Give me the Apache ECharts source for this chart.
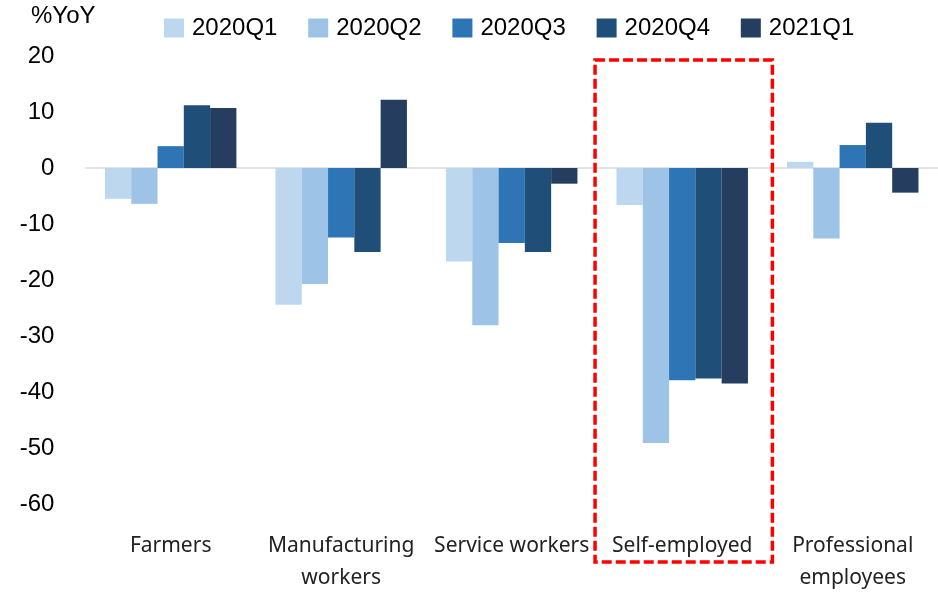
<!DOCTYPE html>
<html>
<head>
<meta charset="utf-8">
<script src="https://cdn.jsdelivr.net/npm/echarts@6/dist/echarts.min.js"></script>
<style>
html,body{margin:0;padding:0;background:#fff;}
#chart{width:938px;height:594px;}
</style>
</head>
<body>
<div id="chart"></div>
<script>
const categories = ['Farmers', 'Manufacturing\nworkers', 'Service workers', 'Self-employed', 'Professional\nemployees'];
const seriesNames = ['2020Q1', '2020Q2', '2020Q3', '2020Q4', '2021Q1'];
const q2020_1 = [-5.5, -24.4, -16.7, -6.6, 1.1];
const q2020_2 = [-6.4, -20.7, -28.1, -49.1, -12.6];
const q2020_3 = [3.9, -12.4, -13.4, -37.9, 4.1];
const q2020_4 = [11.2, -15.0, -15.0, -37.6, 8.1];
const q2021_1 = [10.7, 12.2, -2.8, -38.5, -4.4];
const yTicks = { min: -60, max: 20, interval: 10 };
const highlightCategory = 'Self-employed';

const colors = ['#BDD7EE', '#9DC3E6', '#2E75B6', '#1F4E79', '#253D5F'];
const allData = [q2020_1, q2020_2, q2020_3, q2020_4, q2021_1];

const chart = echarts.init(document.getElementById('chart'));
const option = {
  animation: false,
  backgroundColor: '#fff',
  title: {
    text: '%YoY', left: 31, top: 4, padding: 0,
    textStyle: { fontFamily: 'Liberation Sans', fontSize: 24, fontWeight: 'normal', color: '#000' }
  },
  legend: {
    data: seriesNames, left: 164, top: 16, padding: 0,
    icon: 'rect', itemWidth: 20, itemHeight: 19, itemGap: 30.8,
    textStyle: { fontFamily: 'Liberation Sans', fontSize: 24, color: '#000', padding: [0, 0, 0, 3] }
  },
  grid: { left: 85.4, top: 56, width: 856.25, height: 453, containLabel: false },
  xAxis: {
    type: 'category', data: categories,
    axisLine: { onZero: true, lineStyle: { color: '#D9D9D9', width: 1.5 } },
    axisTick: { show: false },
    axisLabel: {
      interval: 0, margin: 26, lineHeight: 32,
      fontFamily: 'Noto Sans', fontSize: 21, color: '#222'
    }
  },
  yAxis: {
    type: 'value', min: yTicks.min, max: yTicks.max, interval: yTicks.interval,
    axisLine: { show: false }, axisTick: { show: false }, splitLine: { show: false },
    axisLabel: { margin: 31, fontFamily: 'Liberation Sans', fontSize: 24, color: '#000' }
  },
  series: seriesNames.map((n, i) => ({
    name: n, type: 'bar', data: allData[i],
    barGap: '0%', barCategoryGap: '22.9%',
    itemStyle: { color: colors[i] }
  }))
};
chart.setOption(option);

// highlight box around the chosen category, derived from axis scales
const catIdx = categories.indexOf(highlightCategory);
const c0 = chart.convertToPixel({ gridIndex: 0 }, [catIdx, yTicks.max]);
const c1 = chart.convertToPixel({ gridIndex: 0 }, [catIdx + 1, yTicks.min]);
const catW = c1[0] - c0[0];
const cx = c0[0] + 1.5;
const halfW = catW * 0.52;
chart.setOption({
  graphic: [{
    type: 'rect',
    shape: { x: cx - halfW, y: c0[1] + 4, width: halfW * 2, height: (c1[1] + 58) - (c0[1] + 4) },
    style: { fill: 'none', stroke: '#FF0000', lineWidth: 3.5, lineDash: [10, 4] },
    z: 100
  }]
});
</script>
</body>
</html>
